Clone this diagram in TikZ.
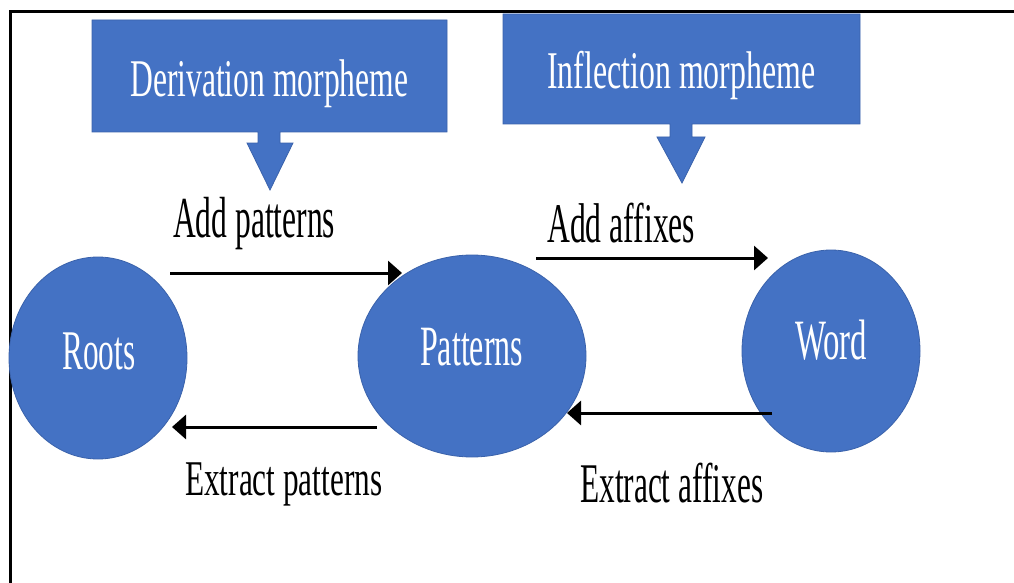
\documentclass[tikz,border=0pt]{standalone}
\usepackage{fontspec}
\setmainfont{Liberation Serif}
\usetikzlibrary{arrows.meta,shapes.geometric}
\definecolor{ofblue}{HTML}{4472C4}
\definecolor{ofedge}{HTML}{3A62AB}
% condensed label: target width (pt), font size (pt), text
\newcommand\fitw[3]{\resizebox{#1pt}{\height}{\fontsize{#2}{#2}\selectfont #3}}

\begin{document}
\begin{tikzpicture}[x=1pt,y=-1pt,
  blob/.style={ellipse,fill=ofblue,draw=ofedge,line width=0.8pt,inner sep=0pt},
  callout/.style={fill=ofblue,draw=ofedge,line width=0.8pt},
  wlbl/.style={inner sep=0pt,anchor=base west,text=white},
  blbl/.style={inner sep=0pt,anchor=base west,text=black},
  conn/.style={line width=3pt,-{Triangle[length=14pt,width=24pt]}}]
\useasboundingbox (0,0) rectangle (1014,583);
\fill[white] (0,0) rectangle (1014,583);

% frame
\draw[line width=3pt] (10,583) -- (10,12) -- (1014,12);

% down-arrow callouts
\draw[callout] (92,20) -- (447,20) -- (447,132) -- (280,132) -- (280,143)
  -- (293,143) -- (270,190) -- (247,143) -- (258,143) -- (258,132)
  -- (92,132) -- cycle;
\draw[callout] (503,14) -- (860,14) -- (860,124) -- (692,124) -- (692,137)
  -- (705,137) -- (682,183) -- (657,137) -- (670,137) -- (670,124)
  -- (503,124) -- cycle;
\node[wlbl] (deriv) at (130,97) {\fitw{278}{53}{Derivation morpheme}};
\node[wlbl] (infl) at (547,89) {\fitw{268}{53}{Inflection morpheme}};

% word-formation stages
\node[blob,minimum width=178pt,minimum height=202pt] (roots) at (98,358) {};
\node[blob,minimum width=228pt,minimum height=202pt] (patterns) at (472,356) {};
\node[blob,minimum width=178pt,minimum height=202pt] (word) at (831,351) {};
\node[wlbl] (rootsT) at (62,369) {\fitw{73}{56}{Roots}};
\node[wlbl] (patternsT) at (420,365) {\fitw{103}{57}{Patterns}};
\node[wlbl] (wordT) at (795,359) {\fitw{72}{57}{Word}};

% connectors
\coordinate (addPs) at (170,273);
\coordinate (addPe) at (402,273);
\coordinate (addAs) at (536,258);
\coordinate (addAe) at (768,258);
\coordinate (extPs) at (377,427);
\coordinate (extPe) at (172,427);
\coordinate (extAs) at (772,413);
\coordinate (extAe) at (567,413);
\draw[conn] (addPs) -- (addPe);
\draw[conn] (addAs) -- (addAe);
\draw[conn] (extPs) -- (extPe);
\draw[conn] (extAs) -- (extAe);

% connector labels
\node[blbl] (addP) at (173,237) {\fitw{162}{58}{Add patterns}};
\node[blbl] (addA) at (547,242) {\fitw{148}{56}{Add affixes}};
\node[blbl] (extP) at (185,495) {\fitw{197}{50}{Extract patterns}};
\node[blbl] (extA) at (580,502) {\fitw{183}{56}{Extract affixes}};
\end{tikzpicture}
\end{document}
